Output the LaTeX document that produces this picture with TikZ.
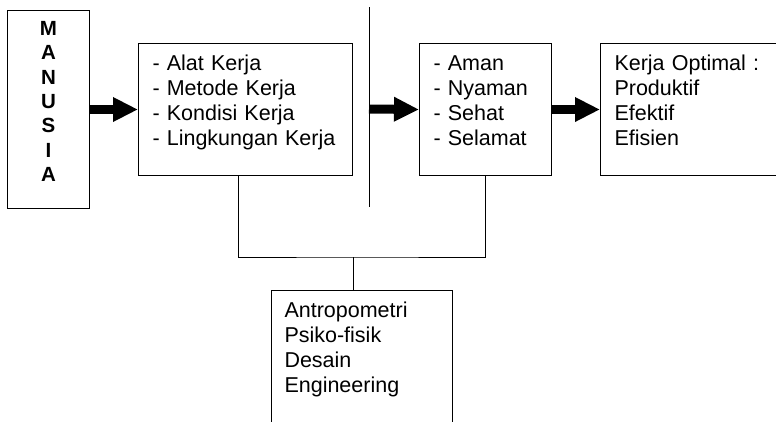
\documentclass[tikz,border=0pt]{standalone}
\usepackage{fontspec}
\setmainfont{Liberation Sans}
\usetikzlibrary{arrows.meta}
\tikzset{
  box/.style={
    draw,
    line width=1pt,
    anchor=north west,
    align=left,
    inner xsep=14pt,
    inner ysep=0pt,
    font=\fontsize{21.5}{25}\selectfont,
    text height=27pt
  },
  tegak/.style={box, align=center, inner xsep=0pt, text height=25pt,
    font=\fontsize{20.5}{24.3}\selectfont\bfseries},
  panah/.style={-{Triangle[length=25pt,width=23pt]}, line width=9pt},
  garis/.style={line width=1pt}
}

\begin{document}
\begin{tikzpicture}[x=1pt, y=-1pt]
  \clip (0,0) rectangle (776,421);
  \node[tegak, text width=82pt, text depth=173pt] (manusia) at (7,10) {M\\A\\N\\U\\S\\I\\A};
  \node[box, text width=186pt, text depth=105pt] (faktor) at (138,43) {- Alat Kerja\\- Metode Kerja\\- Kondisi Kerja\\- Lingkungan Kerja};
  \node[box, text width=104pt, text depth=105pt] (kondisi) at (419,43) {- Aman\\- Nyaman\\- Sehat\\- Selamat};
  \node[box, text width=180pt, text depth=105pt] (optimal) at (600,43) {Kerja Optimal :\\Produktif\\Efektif\\Efisien};
  \node[box, inner xsep=13pt, text width=155pt, text depth=123pt] (ilmu) at (271,290) {Antropometri\\Psiko-fisik\\Desain\\Engineering};

  % garis pemisah
  \coordinate (batasatas) at (369,7);
  \coordinate (batasbawah) at (369,207);
  \draw[garis] (batasatas) -- (batasbawah);
  \coordinate (batastengah) at (369,109);

  \draw[panah] (manusia.east) -- (faktor.west);
  \draw[panah] (batastengah) -- (kondisi.west);
  \draw[panah] (kondisi.east) -- (optimal.west);

  \coordinate (simpul) at (353,257);
  \draw[garis] ([xshift=-7pt]faktor.south) |- (simpul) -| (kondisi.south);
  \draw[garis] (simpul) -- (simpul |- ilmu.north);
\end{tikzpicture}
\end{document}
